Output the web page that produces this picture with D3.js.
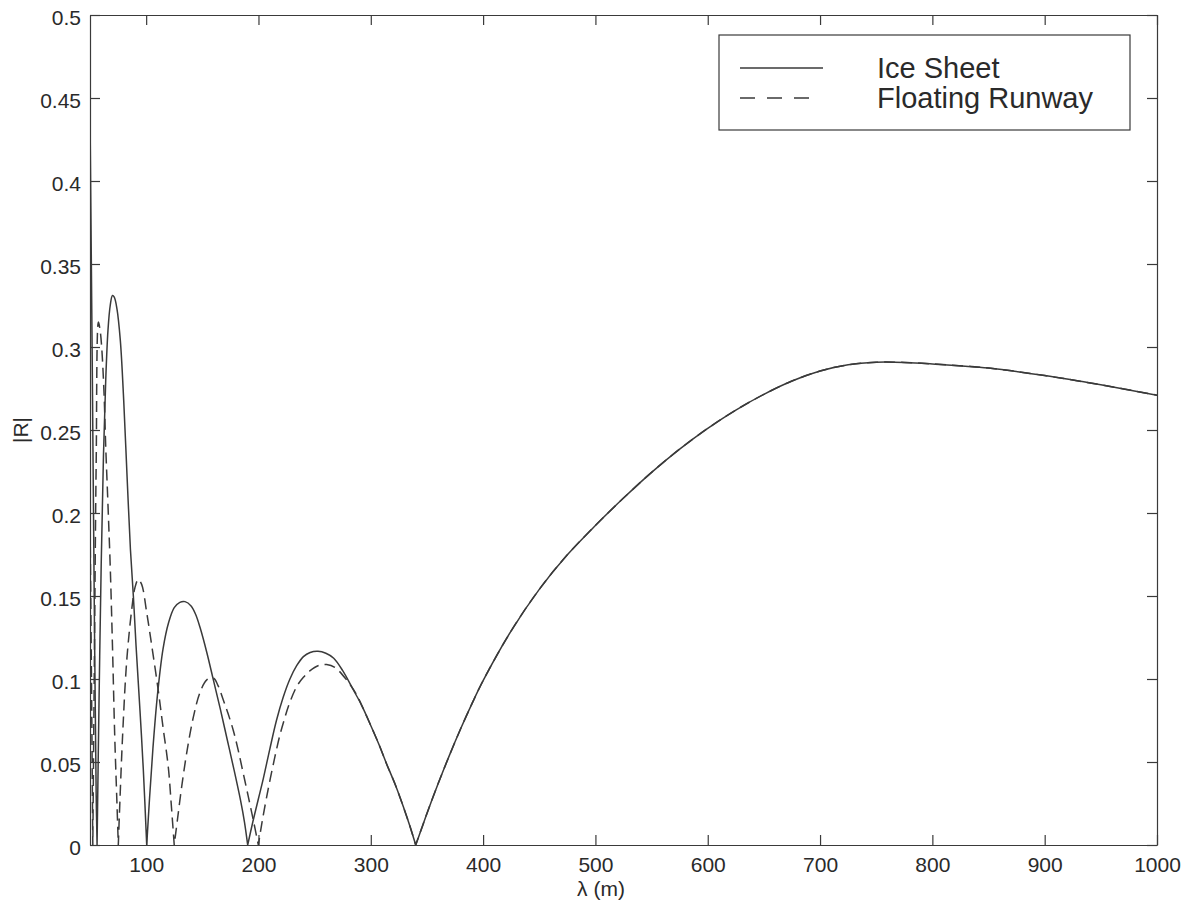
<!DOCTYPE html>
<html>
<head>
<meta charset="utf-8">
<script src="https://cdn.jsdelivr.net/npm/d3@7"></script>
<style>
  body { margin: 0; background: #fff; }
  text { font-family: "Liberation Sans", Arial, Helvetica, sans-serif; fill: #2a2a2a; }
</style>
</head>
<body>
<svg id="chart" width="1197" height="913"></svg>
<script>
// Reflection coefficient |R| against incident wavelength λ (m)

// Ice sheet, short-wavelength part (before the two curves coincide)
const iceLambda = [50, 52, 54, 55.5, 56.3, 58, 60, 62, 64, 66, 68, 70, 71.6, 74, 77, 80, 83, 86, 88.6, 91, 94.5, 97.5, 100.5,
  103, 106, 110, 115, 120, 125, 130, 134.6, 140, 144, 148, 154, 160, 166, 172, 178, 184, 187.5, 190.4,
  195, 200, 204.3, 210, 216, 222, 228, 234, 240, 246, 253, 260, 267, 275, 284];
const iceR = [0.44, 0.29, 0.13, 0.03, 0, 0.085, 0.17, 0.235, 0.28, 0.31, 0.325, 0.331, 0.330, 0.323, 0.304, 0.268, 0.222, 0.178, 0.150, 0.120, 0.081, 0.045, 0,
  0.028, 0.058, 0.090, 0.118, 0.134, 0.143, 0.1462, 0.1466, 0.144, 0.139, 0.131, 0.116, 0.099, 0.082, 0.064, 0.046, 0.027, 0.014, 0,
  0.014, 0.028, 0.040, 0.0575, 0.075, 0.089, 0.100, 0.108, 0.1135, 0.116, 0.1167, 0.1155, 0.1125, 0.105, 0.094];

// Floating runway, short-wavelength part
const runwayLambda = [50, 51.3, 52.5, 54, 55.5, 57.5, 59, 60.4, 62.5, 64, 66, 68, 70, 72, 74, 75.2,
  76.1, 79.1, 82.7, 87.1, 90, 93, 96, 100.5, 105, 110.8, 115, 119.7, 122.5, 125,
  128, 131.6, 136, 142, 148, 154, 159.8, 164, 168.7, 173, 177.6, 182, 186.5, 191, 195.4, 199.9,
  203, 207.3, 213, 219, 223.6, 226.6, 234, 240, 246, 253, 260.7, 268, 278.5, 287];
const runwayR = [0.2, 0.1, 0, 0.12, 0.23, 0.315, 0.31, 0.300, 0.272, 0.24, 0.205, 0.168, 0.12, 0.066, 0.025, 0,
  0.017, 0.067, 0.111, 0.1416, 0.155, 0.160, 0.157, 0.140, 0.120, 0.093, 0.071, 0.047, 0.023, 0,
  0.016, 0.035, 0.055, 0.077, 0.092, 0.0995, 0.1006, 0.096, 0.0873, 0.079, 0.069, 0.057, 0.043, 0.029, 0.015, 0,
  0.013, 0.029, 0.048, 0.066, 0.077, 0.0835, 0.0954, 0.101, 0.105, 0.108, 0.1087, 0.107, 0.0994, 0.091];

// Long-wavelength part where both curves are the same
const sharedLambda = [292, 299, 307, 314, 322, 329, 335, 340, 345, 350, 360, 370, 380, 390, 400, 425, 450, 475, 500, 525, 550,
  575, 600, 625, 650, 675, 700, 725, 750, 775, 800, 850, 900, 950, 1000];
const sharedR = [0.084, 0.0735, 0.061, 0.049, 0.036, 0.023, 0.011, 0, 0.0095, 0.019, 0.037, 0.054, 0.070, 0.085, 0.099, 0.129, 0.154, 0.1748, 0.1925, 0.209, 0.2245,
  0.2385, 0.251, 0.262, 0.2715, 0.2795, 0.2855, 0.2893, 0.2908, 0.2907, 0.2898, 0.2873, 0.2828, 0.2772, 0.271];

const xTicks = [100, 200, 300, 400, 500, 600, 700, 800, 900, 1000];
const yTicks = [0, 0.05, 0.1, 0.15, 0.2, 0.25, 0.3, 0.35, 0.4, 0.45, 0.5];
const yTickLabels = ["0", "0.05", "0.1", "0.15", "0.2", "0.25", "0.3", "0.35", "0.4", "0.45", "0.5"];
const seriesNames = ["Ice Sheet", "Floating Runway"];

const svg = d3.select("#chart");
const plot = { left: 90, right: 1157, top: 15, bottom: 845 };

const x = d3.scaleLinear().domain([50, 1000]).range([plot.left, plot.right]);
const y = d3.scaleLinear().domain([0, 0.5]).range([plot.bottom, plot.top]);

const ink = "#3a3a3a";

// clip path for the curves
svg.append("defs").append("clipPath").attr("id", "plotClip")
  .append("rect")
  .attr("x", plot.left).attr("y", plot.top)
  .attr("width", plot.right - plot.left).attr("height", plot.bottom - plot.top);

function toPoints(ls, rs) { return ls.map((l, i) => ({ l, r: rs[i] })); }

const icePts = toPoints(iceLambda.concat(sharedLambda), iceR.concat(sharedR));
const runwayPts = toPoints(runwayLambda.concat(sharedLambda), runwayR.concat(sharedR));

// Each arch between zeros is smoothed on its own so the zeros stay sharp cusps;
// the arches are joined into one continuous path so the dash pattern runs on.
const arch = d3.line().x(d => x(d.l)).y(d => y(d.r)).curve(d3.curveCatmullRom.alpha(0.5));
function cuspPath(pts) {
  const parts = [];
  let cur = [];
  pts.forEach((p, i) => {
    cur.push(p);
    if (p.r === 0 && i > 0 && i < pts.length - 1) {
      parts.push(cur);
      cur = [p];
    }
  });
  if (cur.length > 1) parts.push(cur);
  return parts.map((seg, k) => {
    const s = arch(seg);
    return k === 0 ? s : "L" + s.slice(1);
  }).join("");
}

const curves = svg.append("g").attr("clip-path", "url(#plotClip)");
curves.append("path")
  .attr("d", cuspPath(runwayPts))
  .attr("fill", "none").attr("stroke", ink).attr("stroke-width", 1.5)
  .attr("stroke-dasharray", "11,6");
curves.append("path")
  .attr("d", cuspPath(icePts))
  .attr("fill", "none").attr("stroke", ink).attr("stroke-width", 1.5);

// Axes: box with inward ticks on all four sides
const fs = 21;
const bottomAxis = d3.axisBottom(x).tickValues(xTicks).tickSizeInner(-10).tickSizeOuter(0).tickPadding(12)
  .tickFormat(d3.format("d"));
const topAxis = d3.axisTop(x).tickValues(xTicks).tickSizeInner(-10).tickSizeOuter(0).tickFormat("");
const leftAxis = d3.axisLeft(y).tickValues(yTicks).tickSizeInner(-10).tickSizeOuter(0).tickPadding(9)
  .tickFormat((d, i) => yTickLabels[i]);
const rightAxis = d3.axisRight(y).tickValues(yTicks).tickSizeInner(-10).tickSizeOuter(0).tickFormat("");

function styleAxis(g) {
  g.selectAll("path.domain").attr("stroke", ink).attr("stroke-width", 1.2);
  g.selectAll(".tick line").attr("stroke", ink).attr("stroke-width", 1.2);
  g.selectAll(".tick text").attr("font-size", fs).attr("fill", "#2a2a2a")
    .style("font-family", "'Liberation Sans', Arial, sans-serif");
}

svg.append("g").attr("transform", `translate(0,${plot.bottom})`).call(bottomAxis).call(styleAxis);
svg.append("g").attr("transform", `translate(0,${plot.top})`).call(topAxis).call(styleAxis);
const gl = svg.append("g").attr("transform", `translate(${plot.left},0)`).call(leftAxis).call(styleAxis);
gl.selectAll(".tick text").attr("dy", "0.45em");
svg.append("g").attr("transform", `translate(${plot.right},0)`).call(rightAxis).call(styleAxis);

// Axis titles
svg.append("text")
  .attr("x", 601).attr("y", 896)
  .attr("text-anchor", "middle").attr("font-size", fs)
  .text("λ (m)");
svg.append("text")
  .attr("transform", `translate(28,${(plot.top + plot.bottom) / 2}) rotate(-90)`)
  .attr("text-anchor", "middle").attr("font-size", fs)
  .text("|R|");

// Legend
const lg = svg.append("g");
lg.append("rect")
  .attr("x", 719).attr("y", 35).attr("width", 411).attr("height", 95)
  .attr("fill", "#fff").attr("stroke", ink).attr("stroke-width", 1.2);
const legendRows = [
  { name: seriesNames[0], dash: null, x2: 823, ly: 68 },
  { name: seriesNames[1], dash: "15,12", x2: 810, ly: 98 }
];
legendRows.forEach(r => {
  lg.append("line")
    .attr("x1", 740).attr("x2", r.x2).attr("y1", r.ly).attr("y2", r.ly)
    .attr("stroke", ink).attr("stroke-width", 1.5)
    .attr("stroke-dasharray", r.dash);
  lg.append("text")
    .attr("x", 877).attr("y", r.ly + 10)
    .attr("font-size", 29)
    .text(r.name);
});
</script>
</body>
</html>
